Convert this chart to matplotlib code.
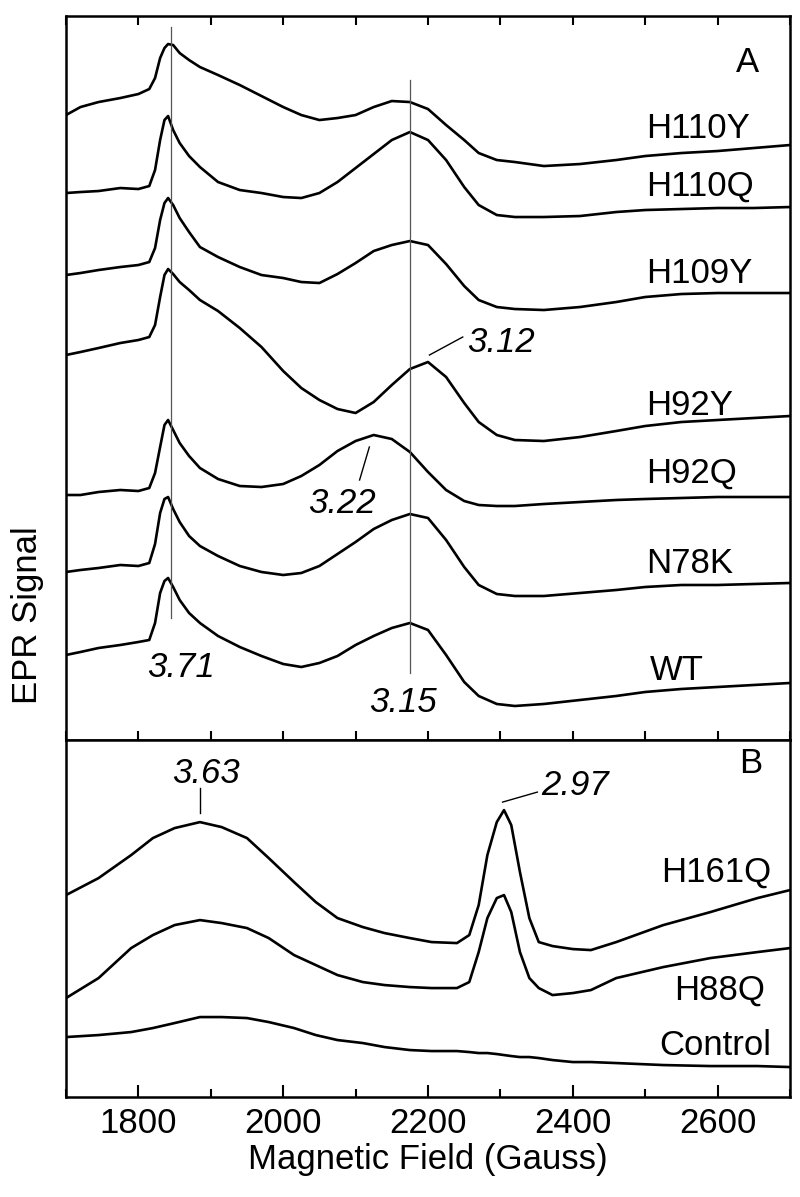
import numpy as np
import matplotlib
matplotlib.use("Agg")
import matplotlib.pyplot as plt
from matplotlib.ticker import MultipleLocator

plt.rcParams['font.family'] = ['Liberation Sans', 'DejaVu Sans']

# ---------------- data ----------------
field_a = [1700, 1720, 1745, 1775, 1800, 1815, 1823, 1830, 1836, 1841,
           1848, 1857, 1870, 1885, 1910, 1940, 1970, 2000, 2025, 2050,
           2075, 2100, 2125, 2150, 2175, 2200, 2225, 2250, 2270, 2295,
           2320, 2360, 2410, 2460, 2500, 2550, 2600, 2650, 2700]

h110y = [625, 633, 638, 642, 646, 651, 662, 682, 692, 696,
         695, 687, 680, 673, 665, 655, 644, 633, 625, 620,
         622, 625, 633, 639, 638, 631, 615, 600, 587, 580,
         578, 574, 576, 580, 584, 587, 589, 592, 595]
h110q = [547, 548, 549, 552, 551, 554, 570, 600, 620, 624,
         610, 597, 584, 573, 558, 550, 547, 543, 542, 547,
         558, 572, 586, 600, 608, 600, 580, 553, 535, 525,
         523, 523, 524, 528, 530, 531, 532, 532, 533]
h109y = [465, 467, 470, 473, 475, 478, 492, 520, 537, 542,
         535, 522, 508, 493, 483, 473, 465, 462, 458, 457,
         466, 477, 489, 495, 499, 495, 476, 454, 440, 433,
         431, 430, 433, 438, 443, 446, 447, 447, 447]
h92y = [385, 388, 392, 397, 400, 403, 415, 443, 465, 471,
        466, 458, 450, 440, 429, 412, 393, 369, 352, 340,
        331, 327, 338, 355, 371, 378, 363, 337, 318, 305,
        300, 299, 303, 309, 314, 318, 320, 322, 324]
h92q = [245, 245, 248, 250, 249, 252, 267, 293, 315, 320,
        310, 297, 284, 272, 261, 254, 253, 256, 264, 275,
        289, 299, 305, 301, 288, 268, 250, 239, 235, 234,
        234, 236, 238, 240, 241, 242, 243, 243, 243]
n78k = [168, 170, 172, 175, 174, 177, 196, 227, 241, 243,
        231, 218, 204, 194, 184, 174, 168, 165, 167, 174,
        186, 198, 211, 220, 226, 222, 200, 173, 155, 146,
        144, 144, 147, 150, 153, 155, 155, 156, 157]
wt = [85, 88, 92, 95, 98, 100, 117, 147, 159, 162,
      153, 140, 127, 117, 104, 93, 84, 76, 73, 77,
      84, 95, 104, 112, 117, 110, 85, 58, 44, 36,
      34, 36, 40, 44, 48, 51, 53, 55, 57]

field_b = [1700, 1745, 1790, 1820, 1850, 1885, 1915, 1950, 1980, 2015,
           2045, 2075, 2110, 2140, 2175, 2205, 2240, 2257, 2270, 2282,
           2295, 2305, 2315, 2327, 2340, 2353, 2372, 2400, 2425, 2460,
           2525, 2590, 2655, 2700]

h161q = [202, 219, 242, 259, 269, 275, 270, 259, 239, 215,
         195, 179, 170, 164, 159, 155, 154, 162, 192, 242,
         275, 287, 272, 225, 179, 155, 151, 148, 147, 155,
         172, 185, 199, 207]
h88q = [99, 119, 149, 162, 172, 177, 174, 169, 159, 142,
        132, 122, 115, 112, 110, 109, 109, 115, 145, 179,
        199, 202, 185, 145, 119, 109, 102, 104, 107, 119,
        130, 139, 145, 149]
control = [60, 62, 65, 69, 74, 80, 80, 79, 75, 69,
           62, 57, 54, 50, 47, 46, 46, 45, 44, 44,
           43, 42, 41, 40, 40, 39, 37, 35, 35, 34,
           32, 31, 31, 30]

names_a = ["H110Y", "H110Q", "H109Y", "H92Y", "H92Q", "N78K", "WT"]
names_b = ["H161Q", "H88Q", "Control"]
g_field = [1845, 2174.5]            # fields of the g = 3.71 and 3.15 guide lines

# ---------------- figure ----------------
fig = plt.figure(figsize=(8.0, 11.97), dpi=100)
axA = fig.add_axes([0.0825, 0.3818, 0.905, 0.6048])
axB = fig.add_axes([0.0825, 0.0835, 0.905, 0.2982])

FS = 25
lw_trace = 1.9

for y in [h110y, h110q, h109y, h92y, h92q, n78k, wt]:
    axA.plot(field_a, y, color='black', lw=lw_trace,
             solid_joinstyle='round', solid_capstyle='round')
for y in [h161q, h88q, control]:
    axB.plot(field_b, y, color='black', lw=lw_trace,
             solid_joinstyle='round', solid_capstyle='round')

# guide lines in panel A
axA.plot([g_field[0], g_field[0]], [122, 713], color='#555555', lw=0.9)
axA.plot([g_field[1], g_field[1]], [67, 660], color='#555555', lw=0.9)

for ax, ylim in [(axA, (0, 724)), (axB, (0, 357))]:
    ax.set_xlim(1700, 2700)
    ax.set_ylim(*ylim)
    ax.set_yticks([])
    ax.xaxis.set_major_locator(MultipleLocator(200))
    ax.xaxis.set_minor_locator(MultipleLocator(100))
    for s in ax.spines.values():
        s.set_linewidth(1.8)

axA.tick_params(axis='x', which='both', direction='in', top=True, bottom=True,
                labelbottom=False, width=1.5)
axA.tick_params(axis='x', which='major', length=6.5)
axA.tick_params(axis='x', which='minor', length=6.5)
axB.tick_params(axis='x', which='both', direction='in', top=False, bottom=True,
                width=1.5, labelsize=FS, pad=7)
axB.tick_params(axis='x', which='major', length=9)
axB.tick_params(axis='x', which='minor', length=5.5)

axB.set_xlabel("Magnetic Field (Gauss)", fontsize=FS, labelpad=2)
fig.text(28 / 800, 1 - 615 / 1197, "EPR Signal", rotation=90,
         ha='center', va='center', fontsize=FS)

# trace labels
label_pos_a = [(2501, 602), (2501, 544), (2501, 457), (2501, 325),
               (2501, 257), (2501, 167), (2506, 60)]
for name, (x, y) in zip(names_a, label_pos_a):
    axA.text(x, y, name, fontsize=FS, ha='left', va='baseline')
label_pos_b = [(2522, 215), (2540, 97), (2519, 42)]
for name, (x, y) in zip(names_b, label_pos_b):
    axB.text(x, y, name, fontsize=FS, ha='left', va='baseline')

axA.text(2626, 668, "A", fontsize=FS, ha='left', va='baseline')
axB.text(2630, 324, "B", fontsize=FS, ha='left', va='baseline')

# g-value annotations
axA.text(1812, 63, "3.71", fontsize=FS, style='italic', ha='left', va='baseline')
axA.text(2119, 28, "3.15", fontsize=FS, style='italic', ha='left', va='baseline')
axA.text(2034, 227, "3.22", fontsize=FS, style='italic', ha='left', va='baseline')
axA.plot([2105.5, 2119], [260, 293], color='black', lw=1.0)
axA.text(2254, 388, "3.12", fontsize=FS, style='italic', ha='left', va='baseline')
axA.plot([2202, 2248], [385, 403], color='black', lw=1.0)

axB.text(1846, 314, "3.63", fontsize=FS, style='italic', ha='left', va='baseline')
axB.plot([1885, 1885], [284, 309], color='black', lw=1.0)
axB.text(2357, 302, "2.97", fontsize=FS, style='italic', ha='left', va='baseline')
axB.plot([2303, 2351], [295, 305], color='black', lw=1.0)

fig.savefig("out.png", dpi=100)
